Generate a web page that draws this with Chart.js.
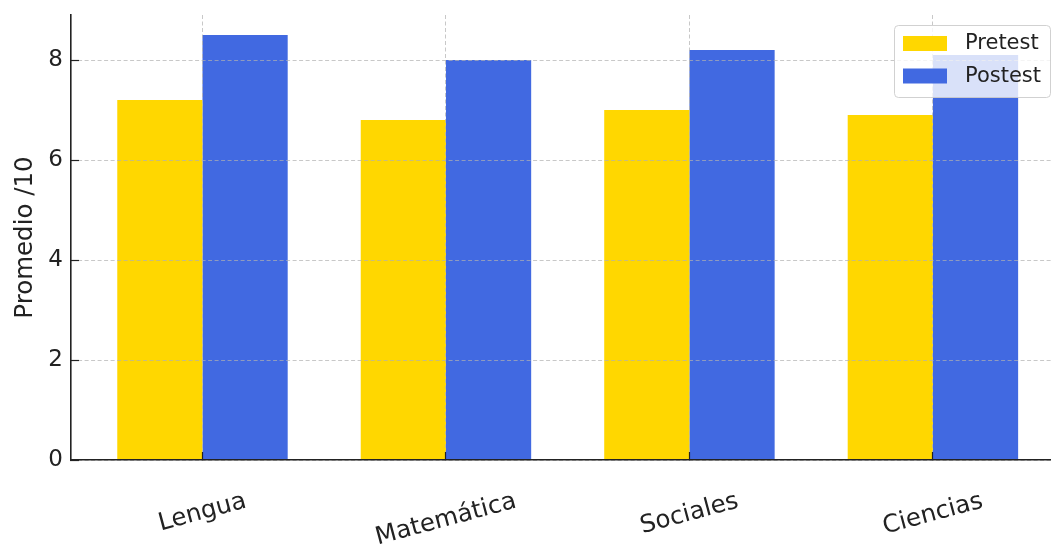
<!DOCTYPE html>
<html>
<head>
<meta charset="utf-8">
<script src="https://cdn.jsdelivr.net/npm/chart.js@4/dist/chart.umd.min.js"></script>
<style>
  html, body { margin: 0; padding: 0; background: #fff; overflow: hidden; }
  #wrap { width: 1051px; height: 545px; }
</style>
</head>
<body>
<div id="wrap"><canvas id="myChart"></canvas></div>
<script>
const materias = ["Lengua", "Matemática", "Sociales", "Ciencias"];
const pretest = [7.2, 6.8, 7.0, 6.9];
const postest = [8.5, 8.0, 8.2, 8.1];
const yTicks = [0, 2, 4, 6, 8];

const FONT = "'DejaVu Sans', sans-serif";
const GRID = "rgba(176,176,176,0.7)";

// rotated category labels, centred under each group like matplotlib does
const xLabels = {
  id: "xLabels",
  afterDraw: (chart) => {
    const ctx = chart.ctx;
    const x = chart.scales.x;
    const top = chart.chartArea.bottom + 31;
    const ang = 15 * Math.PI / 180;
    ctx.save();
    ctx.font = "24.5px " + FONT;
    ctx.fillStyle = "#222";
    ctx.textAlign = "center";
    ctx.textBaseline = "middle";
    materias.forEach((m, i) => {
      const w = ctx.measureText(m).width;
      const h = w * Math.sin(ang) + 20;
      ctx.save();
      ctx.translate(x.getPixelForValue(i), top + h / 2);
      ctx.rotate(-ang);
      ctx.fillText(m, 0, 0);
      ctx.restore();
    });
    ctx.restore();
  }
};

// legend box in the upper right, over the plot
const boxLegend = {
  id: "boxLegend",
  afterDraw: (chart) => {
    const ctx = chart.ctx;
    const bx = 894, by = 25, bw = 156, bh = 72;
    ctx.save();
    ctx.beginPath();
    ctx.roundRect(bx + 0.5, by + 0.5, bw, bh, 4);
    ctx.fillStyle = "rgba(255,255,255,0.8)";
    ctx.fill();
    ctx.strokeStyle = "rgba(204,204,204,0.9)";
    ctx.lineWidth = 1;
    ctx.stroke();
    ctx.font = "21px " + FONT;
    ctx.textBaseline = "middle";
    chart.data.datasets.forEach((ds, i) => {
      const cy = 44 + i * 32.5;
      ctx.fillStyle = ds.backgroundColor;
      ctx.fillRect(903, cy - 8, 44, 15);
      ctx.fillStyle = "#222";
      ctx.fillText(ds.label, 965, cy);
    });
    ctx.restore();
  }
};

displayChart = () => {
  var ctx = document.getElementById("myChart").getContext("2d");
  new Chart(ctx, {
    type: "bar",
    data: {
      datasets: [
        {
          label: "Pretest",
          backgroundColor: "#FFD700",
          data: pretest.map((v, i) => ({ x: i, y: v })),
        },
        {
          label: "Postest",
          backgroundColor: "#4169E1",
          data: postest.map((v, i) => ({ x: i, y: v })),
        },
      ]
    },
    plugins: [xLabels, boxLegend],
    options: {
      responsive: true,
      maintainAspectRatio: false,
      animation: false,
      layout: { padding: { top: 15, left: 0, right: 0, bottom: 0 } },
      datasets: { bar: { categoryPercentage: 0.7, barPercentage: 1.0 } },
      plugins: {
        legend: { display: false },
        tooltip: { enabled: false },
      },
      scales: {
        x: {
          type: "linear",
          min: -0.54,
          max: 3.485,
          offset: false,
          afterFit: (s) => { s.height = 85; s.paddingLeft = 0; s.paddingRight = 0; },
          ticks: { display: false, stepSize: 1, includeBounds: false },
          grid: {
            offset: false,
            z: 1,
            color: GRID,
            lineWidth: 1,
            tickLength: -8,
            tickColor: "#222",
            tickWidth: 1.2,
            tickBorderDash: [],
          },
          border: { z: 2, color: "#222", width: 1.6, dash: [4, 2.5] },
        },
        y: {
          min: 0,
          max: 8.9,
          afterFit: (s) => { s.width = 71; s.paddingTop = 0; s.paddingBottom = 0; },
          afterBuildTicks: (s) => { s.ticks = yTicks.map((v) => ({ value: v })); },
          ticks: {
            stepSize: 2,
            includeBounds: false,
            padding: 16,
            color: "#222",
            font: { family: FONT, size: 23 },
          },
          grid: {
            z: 1,
            color: GRID,
            lineWidth: 1,
            tickLength: -8,
            tickColor: "#222",
            tickWidth: 1.2,
            tickBorderDash: [],
          },
          border: { z: 2, color: "#222", width: 1.6, dash: [4, 2.5] },
          title: {
            display: true,
            text: "Promedio /10",
            color: "#222",
            font: { family: FONT, size: 24.5 },
            padding: { top: 11, bottom: 0 },
          },
        },
      },
    },
  });
};

displayChart();
</script>
</body>
</html>
